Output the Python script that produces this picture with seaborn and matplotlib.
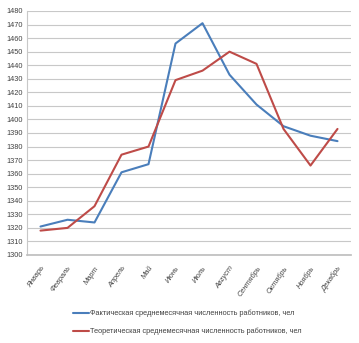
import matplotlib
matplotlib.use("Agg")
import matplotlib.pyplot as plt
import seaborn as sns
import pandas as pd
import numpy as np
from matplotlib.lines import Line2D

months = ["Январь", "Февраль", "Март", "Апрель", "Май", "Июнь", "Июль",
          "Август", "Сентябрь", "Октябрь", "Ноябрь", "Декабрь"]
actual = [1321, 1326, 1324, 1361, 1367, 1456, 1471, 1433, 1411, 1395, 1388, 1384]
theoretical = [1318, 1320, 1336, 1374, 1380, 1429, 1436, 1450, 1441, 1393, 1366, 1393]
name_actual = "Фактическая среднемесячная численность работников, чел"
name_theor = "Теоретическая среднемесячная численность работников, чел"
yticks = list(range(1300, 1481, 10))

sns.set_theme(style="white")
plt.rcParams['font.family'] = ['Liberation Sans', 'DejaVu Sans']
FS = 5.3

df = pd.DataFrame({
    "idx": list(range(len(months))) * 2,
    "value": actual + theoretical,
    "series": [name_actual] * len(months) + [name_theor] * len(months),
})

fig = plt.figure(figsize=(3.59, 3.43), dpi=100)
ax = fig.add_axes([27/359, 1 - 255/343, (351 - 27)/359, (255 - 11)/343])
sns.lineplot(data=df, x="idx", y="value", hue="series",
             palette=["#4A7EBB", "#BE4B48"], linewidth=1.5, ax=ax, legend=False)

ax.set_xlim(-0.5, len(months) - 0.5)
ax.set_ylim(1300, 1480)
ax.set_yticks(yticks)
ax.set_yticklabels([str(v) for v in yticks], fontsize=FS, color="#404040")
ax.set_xticks(range(len(months)))
ax.set_xticklabels(months, rotation=55, ha="right", rotation_mode="anchor",
                   fontsize=FS, color="#404040", style="italic")
ax.set_xticks(np.arange(-0.5, len(months), 1.0), minor=True)
ax.tick_params(axis="x", which="major", length=0, pad=7)
ax.tick_params(axis="x", which="minor", length=4, color="#BFBFBF", width=0.8, direction="out")
ax.tick_params(axis="y", length=0, pad=3)
ax.grid(axis="y", color="#C8C8C8", linewidth=0.8)
ax.set_axisbelow(True)
for s in ["top", "right"]:
    ax.spines[s].set_visible(False)
ax.spines["left"].set_color("#C8C8C8")
ax.spines["bottom"].set_color("#BFBFBF")
ax.spines["left"].set_linewidth(0.8)
ax.set_xlabel("")
ax.set_ylabel("")

handles = [Line2D([0], [0], color="#4A7EBB", lw=1.5),
           Line2D([0], [0], color="#BE4B48", lw=1.5)]
fig.legend(handles, [name_actual, name_theor], loc="upper left",
           bbox_to_anchor=(66/359, 1 - 303/343), frameon=False, fontsize=FS,
           handlelength=2.2, handletextpad=0.1, labelspacing=1.45,
           labelcolor="#404040")

fig.savefig("out.png", dpi=100)
